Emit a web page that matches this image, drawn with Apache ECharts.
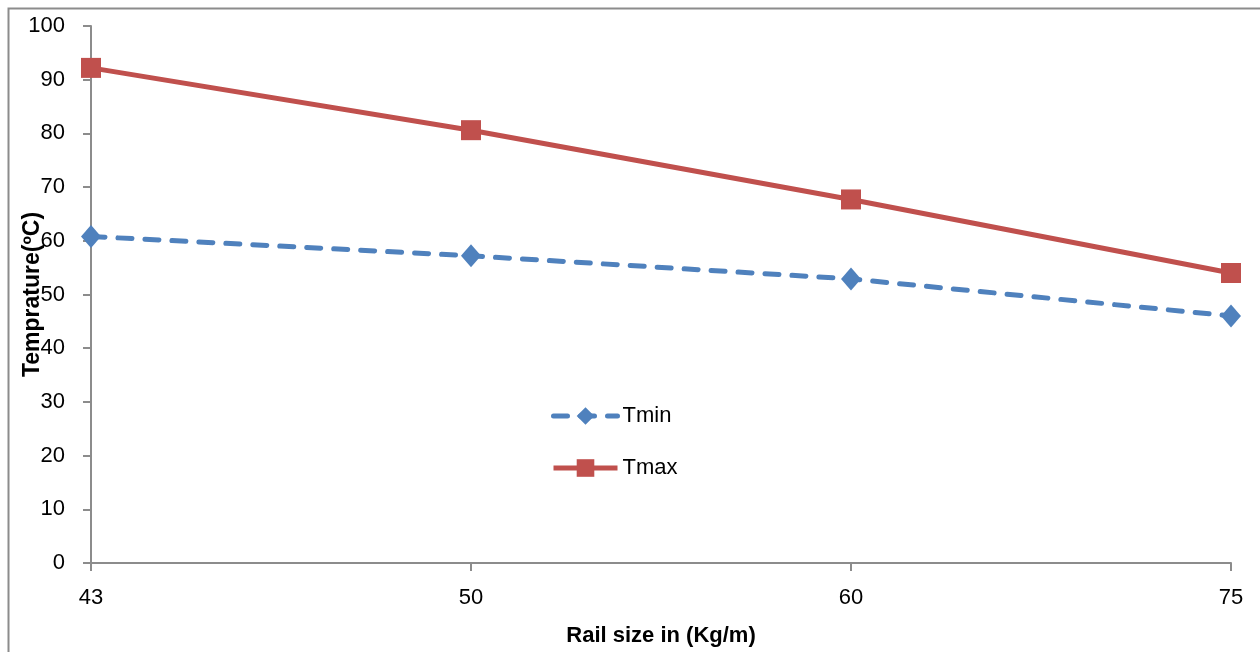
<!DOCTYPE html>
<html>
<head>
<meta charset="utf-8">
<script src="https://cdn.jsdelivr.net/npm/echarts@6/dist/echarts.min.js"></script>
<style>
  html, body { margin: 0; padding: 0; background: #ffffff; }
  #chart { width: 1260px; height: 652px; }
</style>
</head>
<body>
<div id="chart"></div>
<script>
// Rail sizes (Kg/m) along the horizontal axis
const railSizes = ['43', '50', '60', '75'];
// Temperatures (ºC) for each rail size
const tMin = [60.8, 57.2, 52.9, 46.0];
const tMax = [92.2, 80.6, 67.7, 54.0];

const FONT = '"Liberation Sans", Arial, sans-serif';
const chart = echarts.init(document.getElementById('chart'), null, { renderer: 'canvas' });

chart.setOption({
  animation: false,
  backgroundColor: '#ffffff',
  textStyle: { fontFamily: FONT, color: '#000000' },
  graphic: [{
    type: 'rect',
    shape: { x: 8.5, y: 8.5, width: 1300, height: 700 },
    style: { fill: 'none', stroke: '#8c8c8c', lineWidth: 2 },
    silent: true,
    z: 0
  }],
  grid: { left: 91, right: 29, top: 26, bottom: 89, containLabel: false, outerBoundsMode: 'none' },
  legend: {
    orient: 'vertical',
    left: 546,
    top: 400,
    itemWidth: 64,
    itemHeight: 22,
    itemGap: 30,
    lineStyle: { width: 5 },
    textStyle: { fontFamily: FONT, fontSize: 22, color: '#000000' },
    data: ['Tmin', 'Tmax']
  },
  xAxis: {
    type: 'category',
    data: railSizes,
    boundaryGap: false,
    name: 'Rail size in (Kg/m)',
    nameLocation: 'middle',
    nameGap: 62,
    nameMoveOverlap: false,
    nameTextStyle: { fontFamily: FONT, fontSize: 22, fontWeight: 'bold', color: '#000000' },
    axisLine: { show: true, lineStyle: { color: '#8c8c8c', width: 2 } },
    axisTick: { show: true, alignWithLabel: true, length: 8, lineStyle: { color: '#8c8c8c', width: 2 } },
    axisLabel: { fontFamily: FONT, fontSize: 22, color: '#000000', margin: 24 },
    splitLine: { show: false }
  },
  yAxis: {
    type: 'value',
    min: 0,
    max: 100,
    interval: 10,
    name: 'Temprature(ºC)',
    nameLocation: 'middle',
    nameGap: 47,
    nameRotate: 90,
    nameMoveOverlap: false,
    nameTextStyle: { fontFamily: FONT, fontSize: 23, fontWeight: 'bold', color: '#000000' },
    axisLine: { show: true, lineStyle: { color: '#8c8c8c', width: 2 } },
    axisTick: { show: true, length: 8, lineStyle: { color: '#8c8c8c', width: 2 } },
    axisLabel: { fontFamily: FONT, fontSize: 22, color: '#000000', margin: 26 },
    splitLine: { show: false }
  },
  series: [
    {
      name: 'Tmin',
      type: 'line',
      data: tMin,
      symbol: 'diamond',
      symbolSize: [20, 23],
      itemStyle: { color: '#4F81BD' },
      lineStyle: { color: '#4F81BD', width: 5, type: [14, 13], cap: 'round' },
      z: 2
    },
    {
      name: 'Tmax',
      type: 'line',
      data: tMax,
      symbol: 'rect',
      symbolSize: 20,
      itemStyle: { color: '#C0504D' },
      lineStyle: { color: '#C0504D', width: 5 },
      z: 3
    }
  ]
});
</script>
</body>
</html>
